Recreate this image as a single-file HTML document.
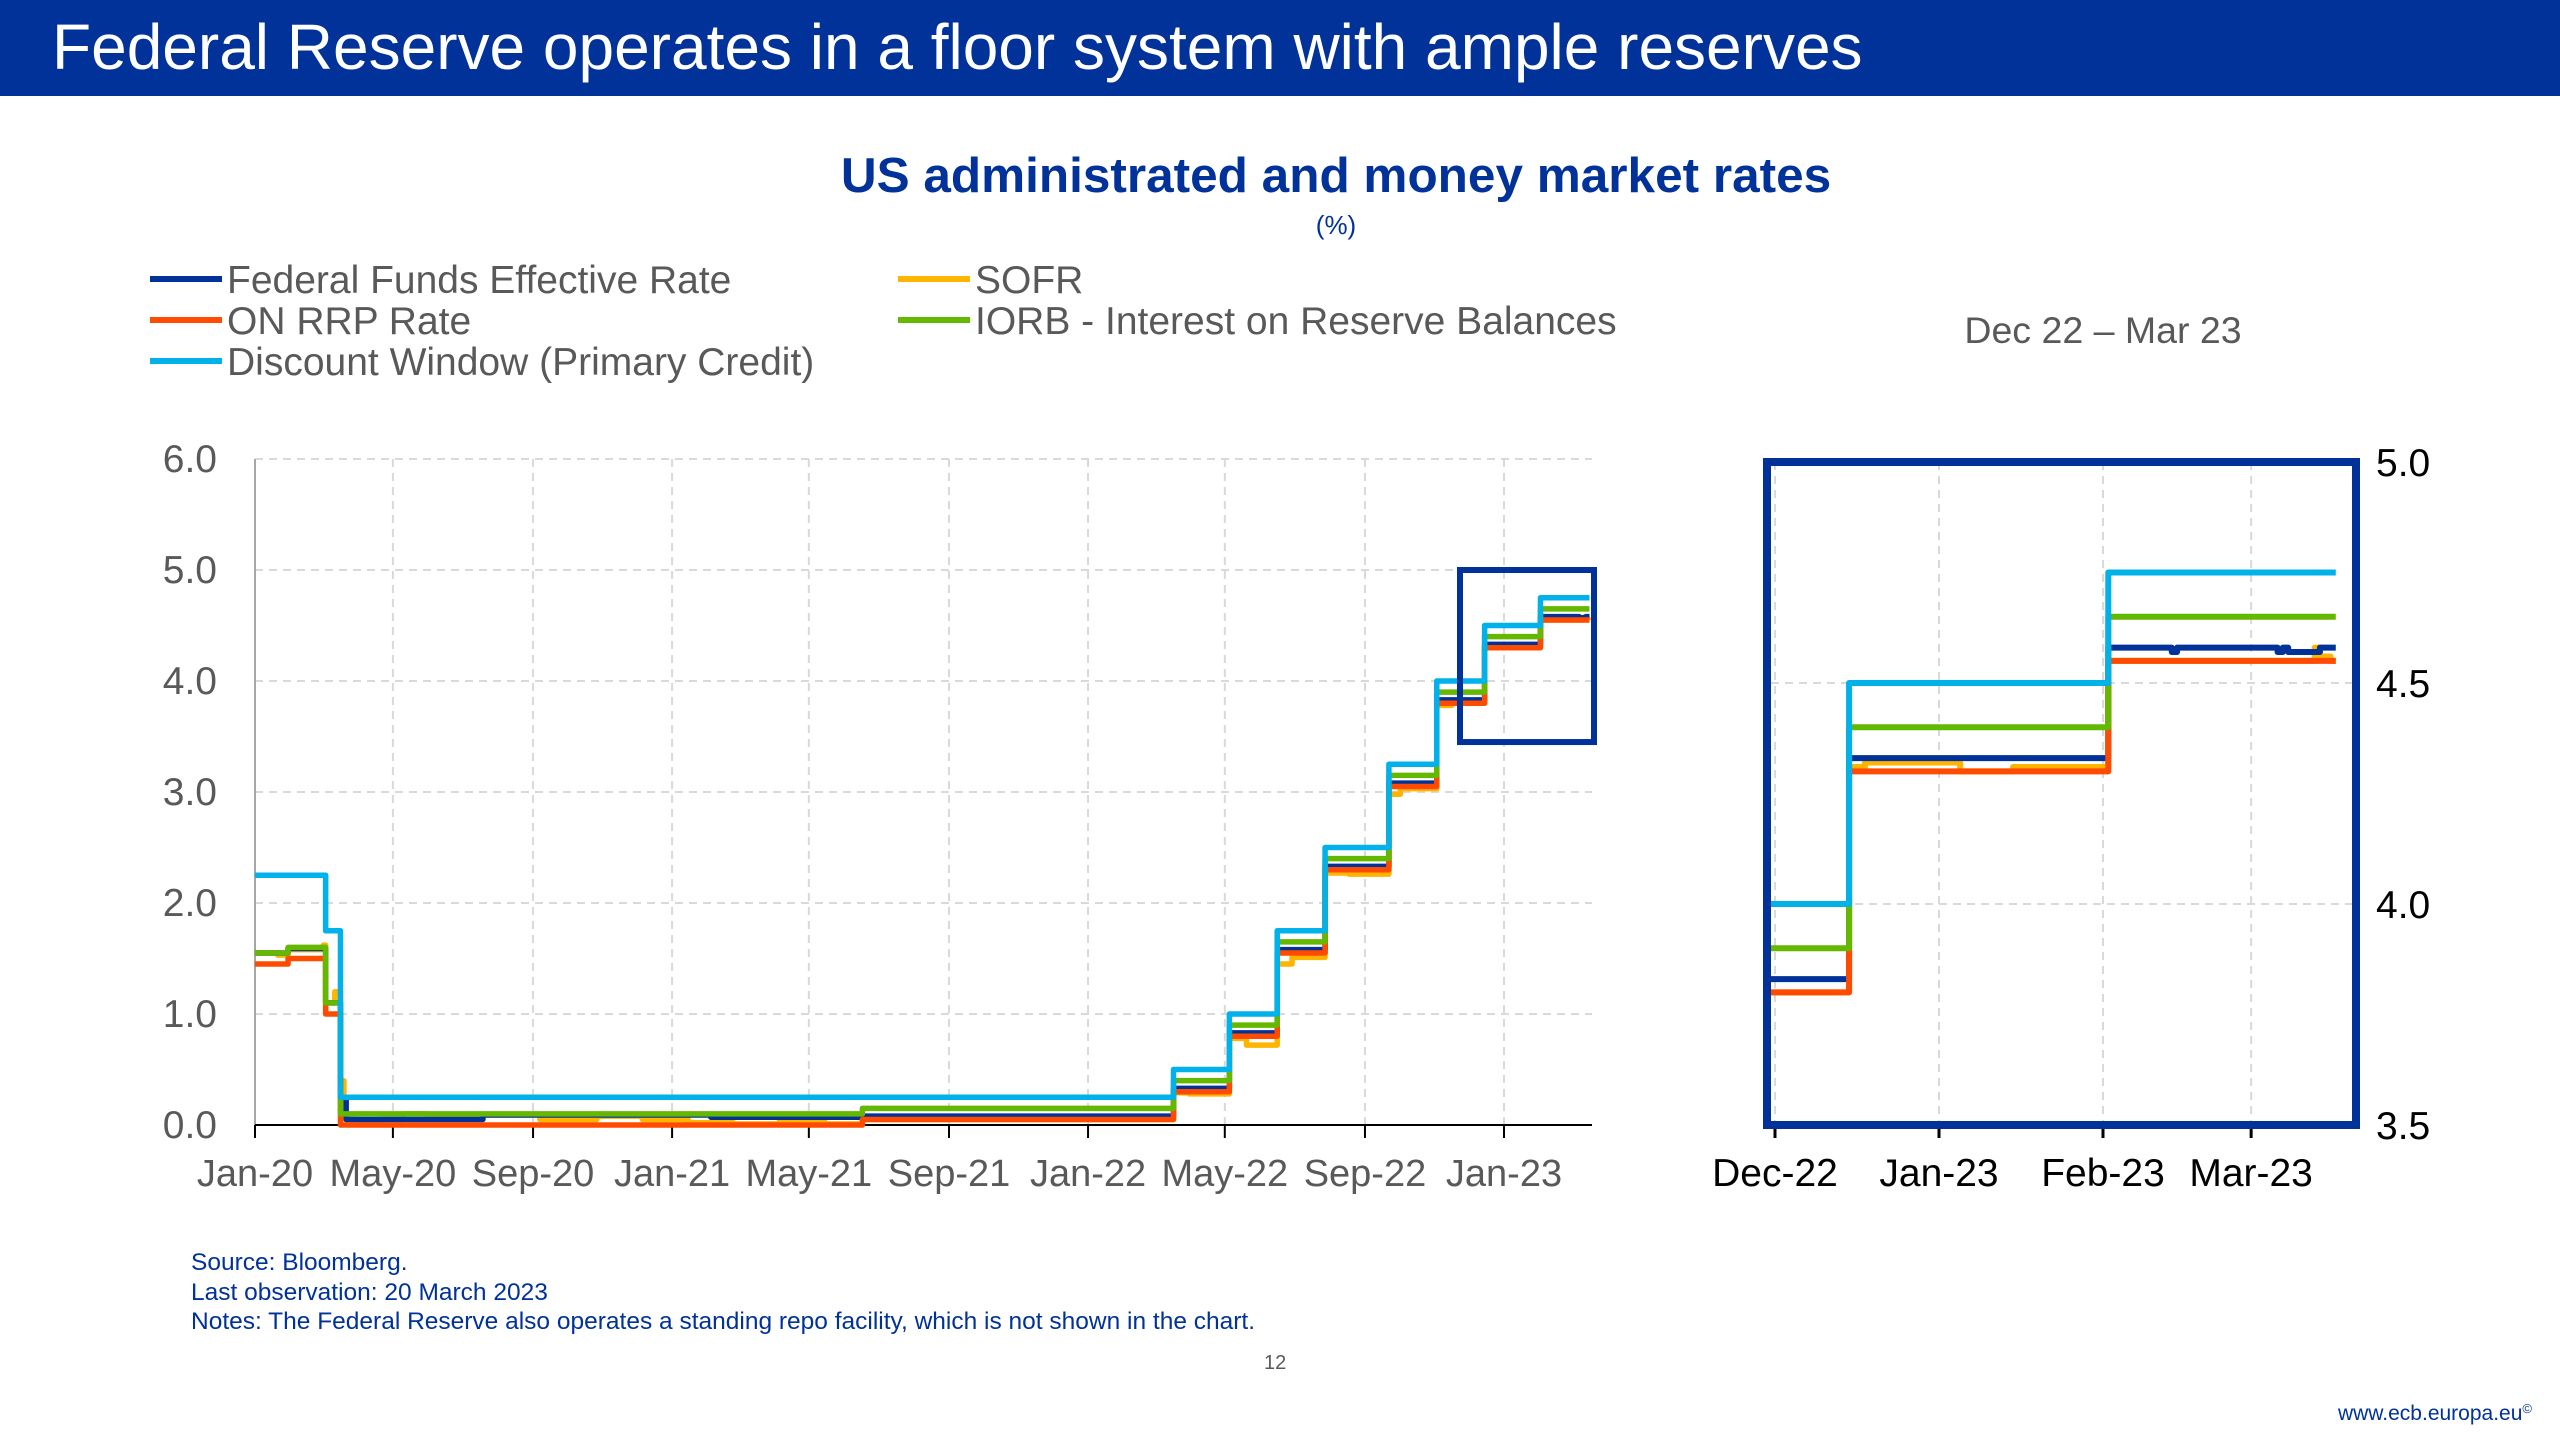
<!DOCTYPE html>
<html><head><meta charset="utf-8">
<style>
html,body{margin:0;padding:0;width:2560px;height:1440px;background:#fff;overflow:hidden;font-family:"Liberation Sans",Arial,sans-serif;position:relative;}
#bar{position:absolute;left:0;top:0;width:2560px;height:96px;background:#003299;}
#bar span{position:absolute;left:52px;top:10px;font-size:64px;color:#fff;white-space:nowrap;line-height:74px;}
.t{position:absolute;white-space:nowrap;}
svg{position:absolute;left:0;top:0;display:block;}
</style></head>
<body>
<div id="bar"><span>Federal Reserve operates in a floor system with ample reserves</span></div>
<div class="t" style="left:336px;width:2000px;text-align:center;top:148px;font-size:49.5px;font-weight:bold;color:#003299;line-height:56px;">US administrated and money market rates</div>
<div class="t" style="left:336px;width:2000px;text-align:center;top:210px;font-size:26px;color:#003299;line-height:30px;">(%)</div>
<div class="t" style="left:1903px;width:400px;text-align:center;top:309px;font-size:37.5px;color:#595959;line-height:43px;">Dec 22 – Mar 23</div>
<div class="t" style="left:191px;top:1248px;font-size:24.5px;color:#003299;line-height:29.5px;">Source: Bloomberg.<br>Last observation: 20 March 2023<br>Notes: The Federal Reserve also operates a standing repo facility, which is not shown in the chart.</div>
<div class="t" style="left:1264px;top:1352px;font-size:20px;color:#595959;line-height:22px;">12</div>
<div class="t" style="right:28px;top:1402px;font-size:21px;color:#003299;line-height:24px;">www.ecb.europa.eu<span style="font-size:13px;vertical-align:top;line-height:13px">©</span></div>
<svg id="chart" width="2560" height="1440"></svg>
<script>
// Dates are day offsets from 1 Jan 2020
const seriesNames = ["Federal Funds Effective Rate","SOFR","ON RRP Rate","IORB - Interest on Reserve Balances","Discount Window (Primary Credit)"];
const seriesColors = ["#003299","#FFB400","#FF4B00","#65B800","#00B1EA"];
const discountDays = [0,62,75,806,855,897,939,995,1037,1079,1128,1171];
const discountVals = [2.25,1.75,0.25,0.50,1.00,1.75,2.50,3.25,4.00,4.50,4.75,4.75];
const iorbDays = [0,29,62,75,533,806,855,897,939,995,1037,1079,1128,1171];
const iorbVals = [1.55,1.60,1.10,0.10,0.15,0.40,0.90,1.65,2.40,3.15,3.90,4.40,4.65,4.65];
const rrpDays = [0,29,62,75,533,806,855,897,939,995,1037,1079,1128,1171];
const rrpVals = [1.45,1.50,1.00,0.00,0.05,0.30,0.80,1.55,2.30,3.05,3.80,4.30,4.55,4.55];
const effrDays = [0,29,62,75,80,90,200,400,533,700,806,855,897,939,995,1037,1079,1128,1140,1141,1142,1160,1161,1162,1168,1171];
const effrVals = [1.55,1.59,1.10,0.25,0.05,0.05,0.09,0.07,0.08,0.08,0.33,0.83,1.58,2.33,3.08,3.83,4.33,4.58,4.57,4.58,4.58,4.57,4.58,4.57,4.58,4.58];
const sofrDays = [0,20,29,60,62,70,75,78,90,110,130,150,200,250,300,340,380,420,460,500,533,600,700,806,820,855,870,897,910,939,960,995,1005,1037,1050,1079,1082,1100,1110,1128,1167,1168,1170,1171];
const sofrVals = [1.55,1.53,1.58,1.62,1.10,1.20,0.40,0.05,0.02,0.05,0.10,0.08,0.09,0.05,0.08,0.05,0.02,0.01,0.03,0.01,0.05,0.05,0.05,0.29,0.28,0.78,0.72,1.45,1.51,2.27,2.26,2.98,3.03,3.78,3.80,4.31,4.32,4.30,4.31,4.55,4.58,4.56,4.55,4.55];
const mainYTicks = [0,1,2,3,4,5,6];
const mainXTickLabels = ["Jan-20","May-20","Sep-20","Jan-21","May-21","Sep-21","Jan-22","May-22","Sep-22","Jan-23"];
const mainXTickDays = [0,121,244,366,486,609,731,851,974,1096];
const insetYTicks = [3.5,4.0,4.5,5.0];
const insetXTickLabels = ["Dec-22","Jan-23","Feb-23","Mar-23"];
const insetXTickDays = [1065,1096,1127,1155];

const NS="http://www.w3.org/2000/svg";
const svg=document.getElementById('chart');
function mk(tag,attrs,parent){const e=document.createElementNS(NS,tag);for(const k in attrs)e.setAttribute(k,attrs[k]);(parent||svg).appendChild(e);return e;}

const mx=d=>255+d*(1249/1096);
const my=v=>1125-v*111;
const ix=d=>1775+(d-1065)*(328/62);
const iy=v=>1125-(v-3.5)*(663/1.5);

const legendPos=[[150,279],[898,279],[150,320],[898,320],[150,361]];
for(let i=0;i<5;i++){
 const [lx,ly]=legendPos[i];
 const l=mk('line',{x1:lx,x2:lx+72,y1:ly,y2:ly,stroke:seriesColors[i],'stroke-width':6});
 
 
 const t=mk('text',{x:lx+77,y:ly+14,'font-size':39,fill:'#595959'});
 t.textContent=seriesNames[i];
 
 
}

mainYTicks.forEach(v=>{
 if(v>0){const g=mk('line',{x1:255,x2:1592,y1:my(v),y2:my(v),stroke:'#d9d9d9','stroke-width':2,'stroke-dasharray':'8,6'});
 
 }
 const t=mk('text',{x:217,y:my(v)+13,'font-size':39,fill:'#595959','text-anchor':'end'});
 t.textContent=v.toFixed(1);
 
 
});
mainXTickDays.forEach((d,i)=>{
 if(i>0){const g=mk('line',{x1:mx(d),x2:mx(d),y1:my(6),y2:1125,stroke:'#d9d9d9','stroke-width':2,'stroke-dasharray':'8,6'});
 
 }
 const tk=mk('line',{x1:mx(d),x2:mx(d),y1:1125,y2:1138,stroke:'#000','stroke-width':2});
 
 
 const t=mk('text',{x:mx(d),y:1186,'font-size':38,fill:'#595959','text-anchor':'middle'});
 t.textContent=mainXTickLabels[i];
 
 
});
const ya=mk('line',{x1:255,x2:255,y1:my(6),y2:1125,stroke:'#a6a6a6','stroke-width':2});


const xa=mk('line',{x1:255,x2:1592,y1:1125,y2:1125,stroke:'#000','stroke-width':2});



function stepPath(days,vals,fx,fy){
 let d='M'+fx(days[0])+','+fy(vals[0]);
 for(let i=1;i<days.length;i++){
  d+=' L'+fx(days[i])+','+fy(vals[i-1]);
  d+=' L'+fx(days[i])+','+fy(vals[i]);
 }
 return d;
}
const seriesData=[[effrDays,effrVals],[sofrDays,sofrVals],[rrpDays,rrpVals],[iorbDays,iorbVals],[discountDays,discountVals]];
const drawOrder=[1,0,2,3,4];
drawOrder.forEach(i=>{
 const [ds,vs]=seriesData[i];
 const p=mk('path',{d:stepPath(ds,vs,mx,my),fill:'none',stroke:seriesColors[i],'stroke-width':5.5,'stroke-linejoin':'round'});
 
 
});
const zb=mk('rect',{x:1460,y:my(5.0),width:134,height:my(3.45)-my(5.0),fill:'none',stroke:'#003299','stroke-width':6});



const clip=mk('clipPath',{id:'ic'});
mk('rect',{x:1771,y:462,width:585,height:663},clip);
insetYTicks.forEach(v=>{
 if(v>3.5&&v<5){const g=mk('line',{x1:1771,x2:2356,y1:iy(v),y2:iy(v),stroke:'#d9d9d9','stroke-width':2,'stroke-dasharray':'8,6'});
 
 }
 const t=mk('text',{x:2376,y:iy(v)+14,'font-size':39,fill:'#000'});
 t.textContent=v.toFixed(1);
 
 
});
insetXTickDays.forEach((d,i)=>{
 const g=mk('line',{x1:ix(d),x2:ix(d),y1:462,y2:1125,stroke:'#d9d9d9','stroke-width':2,'stroke-dasharray':'8,6'});
 
 
 const tk=mk('line',{x1:ix(d),x2:ix(d),y1:1125,y2:1138,stroke:'#000','stroke-width':3});
 
 
 const t=mk('text',{x:ix(d),y:1186,'font-size':39,fill:'#000','text-anchor':'middle'});
 t.textContent=insetXTickLabels[i];
 
 
});
const ig=mk('g',{'clip-path':'url(#ic)'});
drawOrder.forEach(i=>{
 const [ds,vs]=seriesData[i];
 const p=mk('path',{d:stepPath(ds,vs,ix,iy),fill:'none',stroke:seriesColors[i],'stroke-width':6,'stroke-linejoin':'round'},ig);
 
 
});
const ib=mk('rect',{x:1767,y:462,width:589,height:663,fill:'none',stroke:'#003299','stroke-width':8});


</script>
</body></html>
